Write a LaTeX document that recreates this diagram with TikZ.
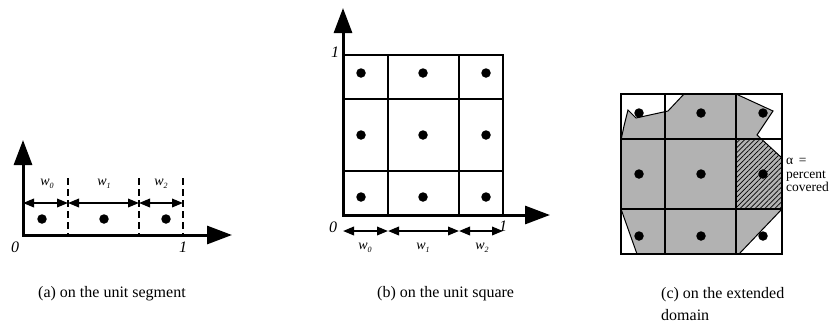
\documentclass[tikz,border=0pt]{standalone}
\usepackage{fontspec}
\setmainfont{Liberation Serif}
\usetikzlibrary{arrows.meta,patterns.meta}
\newcommand{\wlab}[1]{w\raisebox{-2.5pt}{\fontsize{8}{8}\selectfont #1}}
\begin{document}
\begin{tikzpicture}[x=1pt,y=-1pt,
  axis/.style={line width=3pt,{Triangle[length=25pt,width=18pt]}-{Triangle[length=25pt,width=18pt]}},
  dimarrow/.style={line width=2pt,{Triangle[length=11pt,width=8.5pt]}-{Triangle[length=11pt,width=8.5pt]}},
  gridline/.style={line width=1.4pt},
  dashline/.style={line width=1.4pt,dash pattern=on 7pt off 4pt},
  dot/.style={circle,fill=black,inner sep=0pt,minimum size=9.5pt},
  wl/.style={font=\fontsize{14}{14}\selectfont\itshape,inner sep=0pt},
  numl/.style={font=\fontsize{16}{16}\selectfont\itshape,inner sep=0pt},
  captxt/.style={font=\fontsize{16}{22}\selectfont,inner sep=0pt,anchor=base west,align=left},
  sidetxt/.style={font=\fontsize{13.5}{13.5}\selectfont,inner sep=0pt,anchor=north west,align=left},
  region/.style={fill=black!30},
  hatch/.style={pattern={Lines[angle=45,distance=3.5pt,line width=0.7pt]}},
]
\useasboundingbox (0,0) rectangle (840,330);

% ---------- (a) unit segment ----------
\coordinate (aO) at (23,235);
\coordinate (aY) at (23,140);
\coordinate (aX) at (232,235);
\foreach \n/\x in {1/68,2/139,3/183}{
  \coordinate (ad\n t) at (\x,178);
  \coordinate (ad\n b) at (\x,235);
  \draw[dashline] (ad\n t) -- (ad\n b);
}
\draw[axis] (aY) -- (aO) -- (aX);
\coordinate (aa0) at (23,203);
\coordinate (aa1) at (68,203);
\coordinate (aa2) at (139,203);
\coordinate (aa3) at (183,203);
\draw[dimarrow] (aa0) -- (aa1);
\draw[dimarrow] (aa1) -- (aa2);
\draw[dimarrow] (aa2) -- (aa3);
\node[dot] (ap0) at (42,219) {};
\node[dot] (ap1) at (104,219) {};
\node[dot] (ap2) at (166,219) {};
\node[wl] (aw0) at (47,184) {\wlab{0}};
\node[wl] (aw1) at (104,184) {\wlab{1}};
\node[wl] (aw2) at (161,184) {\wlab{2}};
\node[numl] (a0) at (15,247) {0};
\node[numl] (a1) at (183,247) {1};
\node[captxt] (capa) at (38,297) {(a) on the unit segment};

% ---------- (b) unit square ----------
\draw[gridline] (343,55) rectangle (503,215);
\draw[gridline] (388,55) -- (388,215);
\draw[gridline] (459,55) -- (459,215);
\draw[gridline] (343,99) -- (503,99);
\draw[gridline] (343,171) -- (503,171);
\coordinate (bO) at (343,215);
\coordinate (bY) at (343,8);
\coordinate (bX) at (550,215);
\draw[axis] (bY) -- (bO) -- (bX);
\foreach \i/\x in {0/361,1/423,2/486}{
  \foreach \j/\y in {0/73,1/135,2/197}{
    \node[dot] (bp\i\j) at (\x,\y) {};
  }
}
\coordinate (ba0) at (343,231);
\coordinate (ba1) at (388,231);
\coordinate (ba2) at (459,231);
\coordinate (ba3) at (503,231);
\draw[dimarrow] (ba0) -- (ba1);
\draw[dimarrow] (ba1) -- (ba2);
\draw[dimarrow] (ba2) -- (ba3);
\node[wl] (bw0) at (365,248) {\wlab{0}};
\node[wl] (bw1) at (423,248) {\wlab{1}};
\node[wl] (bw2) at (482,248) {\wlab{2}};
\node[numl] (b1y) at (335,52) {1};
\node[numl] (b0) at (333,227) {0};
\node[numl] (b1x) at (503,226) {1};
\node[captxt] (capb) at (377,297) {(b) on the unit square};

% ---------- (c) extended domain ----------
\fill[region] (628,110) -- (636,118) -- (668,111) -- (684,94) -- (736,94)
  -- (773,111) -- (757,135) -- (782,158) -- (782,209) -- (739,254)
  -- (637,254) -- (621,209) -- (621,140) -- (624,126) -- cycle;
\fill[hatch] (736,139) -- (761,139) -- (782,158) -- (782,209) -- (736,209) -- cycle;
\draw[line width=1pt,line join=miter] (628,110) -- (636,118) -- (668,111) -- (684,94) -- (736,94)
  -- (773,111) -- (757,135) -- (782,158) -- (782,209) -- (739,254)
  -- (637,254) -- (621,209) -- (621,140) -- (624,126) -- cycle;
\draw[gridline] (621,94) rectangle (782,254);
\draw[gridline] (665,94) -- (665,254);
\draw[gridline] (736,94) -- (736,254);
\draw[gridline] (621,139) -- (782,139);
\draw[gridline] (621,209) -- (782,209);
\foreach \i/\x in {0/639,1/701,2/763}{
  \foreach \j/\y in {0/113,1/174,2/236}{
    \node[dot] (cp\i\j) at (\x,\y) {};
  }
}
\node[sidetxt] (alpha) at (786,158) {α \,=\\percent\\covered};
\node[captxt] (capc) at (661,320) {(c) on the extended\\domain};
\end{tikzpicture}
\end{document}
